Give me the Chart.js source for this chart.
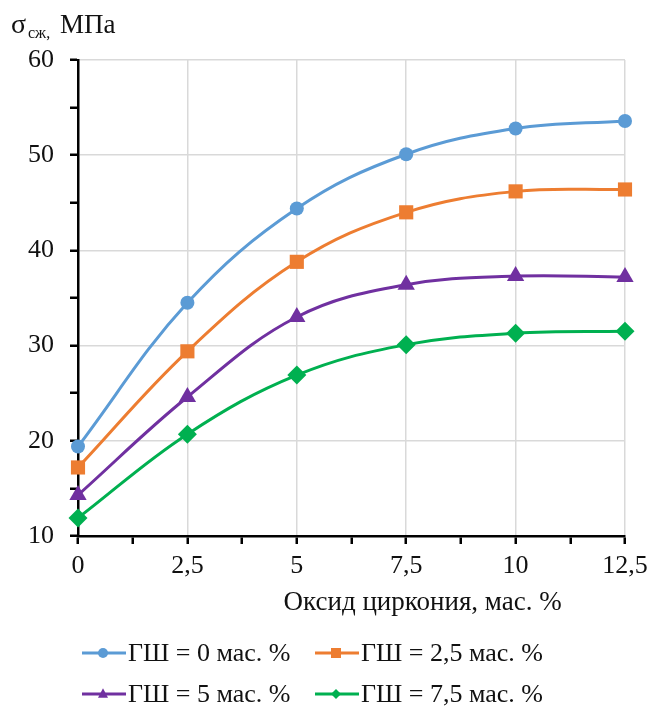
<!DOCTYPE html>
<html>
<head>
<meta charset="utf-8">
<script src="https://cdn.jsdelivr.net/npm/chart.js@4.4.1/dist/chart.umd.min.js"></script>
<style>
  html, body { margin: 0; padding: 0; background: #fff; }
  #wrap { width: 651px; height: 706px; position: relative; }
</style>
</head>
<body>
<div id="wrap"><canvas id="chart"></canvas></div>
<script>
const zirconia = [0, 2.5, 5, 7.5, 10, 12.5];
const gsh0 = [19.4, 34.5, 44.4, 50.1, 52.8, 53.6];
const gsh25 = [17.2, 29.4, 38.8, 44.0, 46.2, 46.4];
const gsh5 = [14.3, 24.6, 33.0, 36.4, 37.3, 37.2];
const gsh75 = [11.9, 20.7, 26.9, 30.1, 31.3, 31.5];
const seriesLabels = ["ГШ = 0 мас. %", "ГШ = 2,5 мас. %", "ГШ = 5 мас. %", "ГШ = 7,5 мас. %"];
const seriesColors = ["#5B9BD5", "#ED7D31", "#7030A0", "#00B050"];
const seriesMarkers = ["circle", "rect", "triangle", "rectRot"];

const FONT = "'Liberation Serif', 'Times New Roman', serif";
const TEXT = "#111";

function comma(v) {
  return String(v).replace(".", ",");
}

function points(values) {
  return zirconia.map((x, i) => ({ x, y: values[i] }));
}

// small legend markers, same shapes as the series points
function marker(ctx, type, x, y, r, color) {
  ctx.save();
  ctx.fillStyle = color;
  ctx.beginPath();
  if (type === "circle") {
    ctx.arc(x, y, r, 0, Math.PI * 2);
  } else if (type === "rect") {
    ctx.rect(x - r, y - r, r * 2, r * 2);
  } else if (type === "triangle") {
    ctx.moveTo(x, y - r * 1.15);
    ctx.lineTo(x + r, y + r * 0.75);
    ctx.lineTo(x - r, y + r * 0.75);
    ctx.closePath();
  } else {
    ctx.moveTo(x, y - r);
    ctx.lineTo(x + r, y);
    ctx.lineTo(x, y + r);
    ctx.lineTo(x - r, y);
    ctx.closePath();
  }
  ctx.fill();
  ctx.restore();
}

const textPlugin = {
  id: "textPlugin",
  afterDraw(chart) {
    const ctx = chart.ctx;
    const area = chart.chartArea;
    ctx.save();
    ctx.fillStyle = TEXT;
    ctx.textBaseline = "alphabetic";

    // y axis title
    ctx.textAlign = "left";
    ctx.font = "28px " + FONT;
    ctx.fillText("σ", 11, 33);
    ctx.font = "16px " + FONT;
    ctx.fillText("сж,", 28, 38);
    ctx.font = "27px " + FONT;
    ctx.fillText("МПа", 60, 33);

    // x axis title
    ctx.textAlign = "center";
    ctx.font = "27px " + FONT;
    ctx.fillText("Оксид циркония, мас. %", area.left + (area.right - area.left) * 0.63, 610);

    // legend
    const cols = [82, 315];
    const rows = [653, 694];
    ctx.textAlign = "left";
    ctx.textBaseline = "middle";
    seriesLabels.forEach((label, i) => {
      const x0 = cols[i % 2];
      const y0 = rows[Math.floor(i / 2)];
      ctx.strokeStyle = seriesColors[i];
      ctx.lineWidth = 3;
      ctx.beginPath();
      ctx.moveTo(x0, y0);
      ctx.lineTo(x0 + 44, y0);
      ctx.stroke();
      marker(ctx, seriesMarkers[i], x0 + 21, y0, 5, seriesColors[i]);
      ctx.fillStyle = TEXT;
      ctx.font = "26px " + FONT;
      ctx.fillText(label, x0 + 46, y0 + 1);
    });
    ctx.restore();
  }
};

const datasets = [gsh0, gsh25, gsh5, gsh75].map((values, i) => ({
  label: seriesLabels[i],
  data: points(values),
  borderColor: seriesColors[i],
  backgroundColor: seriesColors[i],
  borderWidth: 3,
  pointStyle: seriesMarkers[i],
  pointRadius: [7, 10, 10, 9.5][i],
  pointBorderWidth: 0,
  tension: 0.38,
  clip: false
}));

new Chart(document.getElementById("chart"), {
  type: "line",
  data: { datasets },
  options: {
    responsive: true,
    maintainAspectRatio: false,
    animation: false,
    layout: { padding: { top: 60, right: 26, left: 0, bottom: 0 } },
    plugins: {
      legend: { display: false },
      tooltip: { enabled: false }
    },
    scales: {
      x: {
        type: "linear",
        min: 0,
        max: 12.5,
        afterFit(scale) {
          scale.height = 170;
          scale.paddingLeft = 0;
          scale.paddingRight = 0;
        },
        ticks: {
          stepSize: 1.25,
          padding: 7,
          color: TEXT,
          font: { family: FONT, size: 26 },
          autoSkip: false,
          maxRotation: 0,
          callback: (v) => (v % 2.5 === 0 ? comma(v) : "")
        },
        grid: {
          color: (c) => (c.tick && c.tick.value % 2.5 === 0 ? "#d9d9d9" : "rgba(0,0,0,0)"),
          lineWidth: 1.5,
          tickColor: "#000",
          tickLength: 8,
          tickWidth: 2.5
        },
        border: { color: "#000", width: 2.5 }
      },
      y: {
        min: 10,
        max: 60,
        afterFit(scale) {
          scale.width = 78;
          scale.paddingTop = 0;
          scale.paddingBottom = 0;
        },
        ticks: {
          stepSize: 5,
          padding: 16,
          color: TEXT,
          font: { family: FONT, size: 26 },
          autoSkip: false,
          callback: (v) => (v % 10 === 0 ? String(v) : "")
        },
        grid: {
          color: (c) => (c.tick && c.tick.value % 10 === 0 ? "#d9d9d9" : "rgba(0,0,0,0)"),
          lineWidth: 1.5,
          tickColor: "#000",
          tickLength: 8,
          tickWidth: 2.5
        },
        border: { color: "#000", width: 2.5 }
      }
    }
  },
  plugins: [textPlugin]
});
</script>
</body>
</html>
